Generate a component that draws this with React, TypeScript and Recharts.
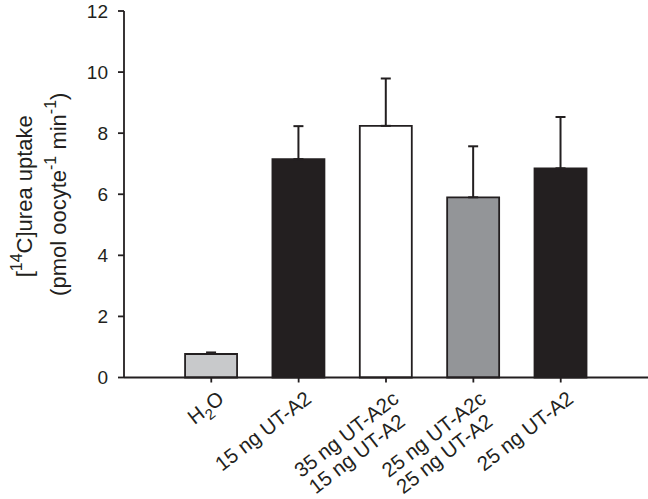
import React from "react";
import { BarChart, Bar, XAxis, YAxis, ErrorBar, Cell, Label } from "recharts";

const groups = [
  ["H_2O"],
  ["15 ng UT-A2"],
  ["35 ng UT-A2c", "15 ng UT-A2"],
  ["25 ng UT-A2c", "25 ng UT-A2"],
  ["25 ng UT-A2"],
];
const uptake = [0.77, 7.15, 8.24, 5.9, 6.85];
const sem = [0.05, 1.08, 1.55, 1.67, 1.68];
const fills = ["#c8c9cb", "#231f20", "#ffffff", "#939598", "#231f20"];
const yTicks = [0, 2, 4, 6, 8, 10, 12];

const ink = "#231f20";
const font = "'Liberation Sans', Arial, Helvetica, sans-serif";

const data = groups.map((g, i) => ({
  name: g.join(" / "),
  value: uptake[i],
  err: [0, sem[i]],
}));

// "H_2O" -> H with subscript 2
const renderLine = (s: string) => {
  const parts = s.split(/_(\d)/);
  return parts.map((p, i) =>
    i % 2 === 1 ? (
      <tspan key={i} dy={6} fontSize={15}>
        {p}
      </tspan>
    ) : i > 0 ? (
      <tspan key={i} dy={-6}>
        {p}
      </tspan>
    ) : (
      <tspan key={i}>{p}</tspan>
    )
  );
};

const XTick = (props: any) => {
  const { x, y, index } = props;
  const lines = groups[index] || [];
  return (
    <g transform={`translate(${x + 5},${y + 5}) rotate(-38)`}>
      {lines.map((l, i) => (
        <text
          key={i}
          x={-i * 9}
          y={i * 22}
          dy="0.72em"
          textAnchor="end"
          fontSize={20.5}
          fontFamily={font}
          fill={ink}
        >
          {renderLine(l)}
        </text>
      ))}
    </g>
  );
};

const YLabel = (props: any) => {
  const { viewBox } = props;
  const cy = viewBox.y + viewBox.height / 2;
  return (
    <g fontFamily={font} fill={ink} fontSize={22}>
      <text x={32} y={cy + 2} textAnchor="middle" transform={`rotate(-90,32,${cy + 2})`}>
        [<tspan dy={-10} fontSize={16}>14</tspan>
        <tspan dy={10}>C]urea uptake</tspan>
      </text>
      <text x={66} y={cy} textAnchor="middle" transform={`rotate(-90,66,${cy})`}>
        (pmol oocyte<tspan dy={-10} fontSize={16}>-1</tspan>
        <tspan dy={10}> min</tspan>
        <tspan dy={-10} fontSize={16}>-1</tspan>
        <tspan dy={10}>)</tspan>
      </text>
    </g>
  );
};

export default function App() {
  return (
    <div style={{ position: "absolute", left: 0, top: 0, background: "#fff" }}>
      <BarChart
        width={648}
        height={499}
        data={data}
        margin={{ top: 11, right: 0, bottom: 0, left: 0 }}
        barCategoryGap="20%"
      >
        <XAxis
          dataKey="name"
          height={121.5}
          padding={{ left: 43.6, right: 43.6 }}
          interval={0}
          tick={<XTick />}
          tickSize={5}
          axisLine={{ stroke: ink, strokeWidth: 1.8 }}
          tickLine={{ stroke: ink, strokeWidth: 1.8 }}
        />
        <YAxis
          width={124}
          domain={[0, 12]}
          ticks={yTicks}
          interval={0}
          tickSize={6}
          tickMargin={10}
          axisLine={{ stroke: ink, strokeWidth: 1.8 }}
          tickLine={{ stroke: ink, strokeWidth: 1.8 }}
          tick={{ fill: ink, fontSize: 19, fontFamily: font }}
        >
          <Label content={<YLabel />} />
        </YAxis>
        <Bar dataKey="value" stroke={ink} strokeWidth={1.8} isAnimationActive={false}>
          {fills.map((f, i) => (
            <Cell key={i} fill={f} />
          ))}
          <ErrorBar
            dataKey="err"
            direction="y"
            width={5}
            stroke={ink}
            strokeWidth={2}
            isAnimationActive={false}
          />
        </Bar>
      </BarChart>
    </div>
  );
}
